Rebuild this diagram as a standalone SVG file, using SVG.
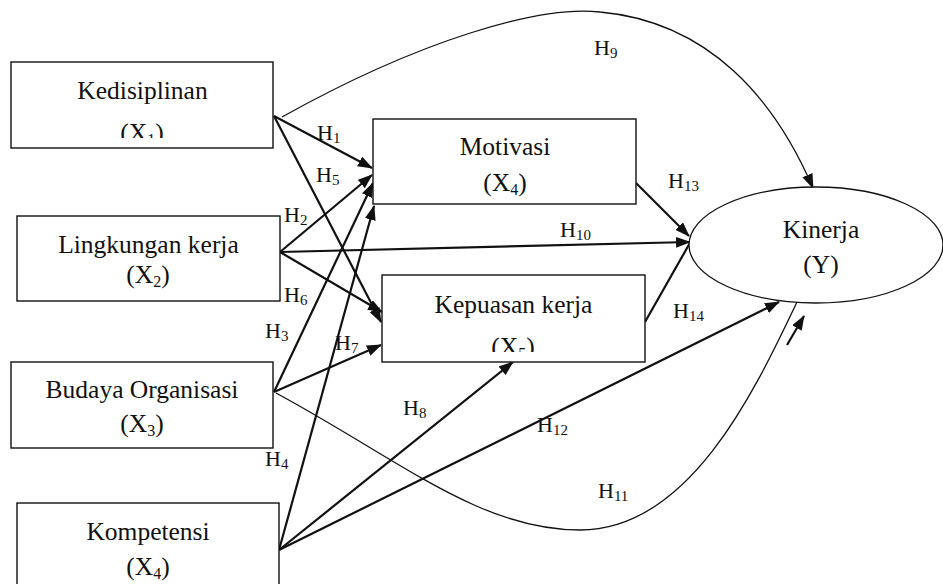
<svg xmlns="http://www.w3.org/2000/svg" width="943" height="584" viewBox="0 0 943 584">
<style>
.box{fill:#fff;stroke:#111;stroke-width:1.4}
.t{font-family:"Liberation Serif","Times New Roman",serif;font-size:25.5px;fill:#111;text-anchor:middle}
.sub{font-size:16px}
.h{font-family:"Liberation Serif","Times New Roman",serif;font-size:22px;fill:#111}
.hs{font-size:15px}
.a{stroke:#111;stroke-width:2.2;fill:none;marker-end:url(#ah)}
.ln{stroke:#111;stroke-width:2.2;fill:none}
.c{stroke:#111;stroke-width:1.3;fill:none}
</style>
<defs>
<marker id="ah" markerUnits="userSpaceOnUse" markerWidth="15" markerHeight="11" refX="14" refY="5.5" orient="auto">
<path d="M0,0 L15,5.5 L0,11 z" fill="#111"/>
</marker>
<clipPath id="cx1"><rect x="0" y="100" width="300" height="38"/></clipPath>
<clipPath id="cx5"><rect x="380" y="320" width="300" height="32"/></clipPath>
</defs>
<rect width="943" height="584" fill="#fff"/>
<g id="connectors">
<path class="c" d="M 282 117 C 420 40, 540 5, 600 12 C 710 22, 775 100, 813 188" marker-end="url(#ah)"/>
<path class="c" d="M 276 393 C 400 460, 480 530, 580 530 C 690 530, 755 390, 797 302"/>
<line class="a" x1="274" y1="116" x2="372" y2="168"/>
<line class="a" x1="274" y1="116" x2="381" y2="322"/>
<line class="a" x1="280" y1="252" x2="372" y2="175"/>
<line class="a" x1="280" y1="252" x2="382" y2="312"/>
<line class="a" x1="280" y1="252" x2="690" y2="242"/>
<line class="a" x1="274" y1="392" x2="373" y2="183"/>
<line class="a" x1="274" y1="392" x2="381" y2="345"/>
<line class="a" x1="279" y1="550" x2="374" y2="206"/>
<line class="a" x1="279" y1="550" x2="513" y2="362"/>
<line class="a" x1="279" y1="550" x2="779" y2="302"/>
<line class="a" x1="636" y1="183" x2="689" y2="236"/>
<line class="ln" x1="645" y1="322" x2="691" y2="241"/>
<line class="a" x1="787" y1="345" x2="804" y2="316"/>
</g>
<g id="kedisiplinan">
<rect class="box" x="11" y="62" width="262" height="86"/>
<text class="t" x="142.5" y="99">Kedisiplinan</text>
<text class="t" x="142" y="141" clip-path="url(#cx1)">(X<tspan class="sub" dy="4">1</tspan><tspan dy="-4">)</tspan></text>
</g>
<g id="lingkungan">
<rect class="box" x="17" y="216" width="263" height="85"/>
<text class="t" x="148.5" y="253">Lingkungan kerja</text>
<text class="t" x="148" y="283">(X<tspan class="sub" dy="4">2</tspan><tspan dy="-4">)</tspan></text>
</g>
<g id="budaya">
<rect class="box" x="11" y="362" width="262" height="86"/>
<text class="t" x="142" y="398">Budaya Organisasi</text>
<text class="t" x="142" y="432">(X<tspan class="sub" dy="4">3</tspan><tspan dy="-4">)</tspan></text>
</g>
<g id="kompetensi">
<rect class="box" x="17" y="503" width="262" height="100"/>
<text class="t" x="148" y="540">Kompetensi</text>
<text class="t" x="148" y="575">(X<tspan class="sub" dy="4">4</tspan><tspan dy="-4">)</tspan></text>
</g>
<g id="motivasi">
<rect class="box" x="373" y="119" width="263" height="85"/>
<text class="t" x="505" y="155">Motivasi</text>
<text class="t" x="505" y="191">(X<tspan class="sub" dy="4">4</tspan><tspan dy="-4">)</tspan></text>
</g>
<g id="kepuasan">
<rect class="box" x="382" y="275" width="263" height="87"/>
<text class="t" x="513.5" y="313">Kepuasan kerja</text>
<text class="t" x="513" y="355" clip-path="url(#cx5)">(X<tspan class="sub" dy="4">5</tspan><tspan dy="-4">)</tspan></text>
</g>
<g id="kinerja">
<ellipse cx="816" cy="245" rx="127" ry="58" fill="#fff" stroke="#111" stroke-width="1.3"/>
<text class="t" x="821" y="238">Kinerja</text>
<text class="t" x="821" y="273">(Y)</text>
</g>
<g id="labels">
<text class="h" x="317" y="140">H<tspan class="hs" dy="3">1</tspan></text>
<text class="h" x="316" y="182">H<tspan class="hs" dy="3">5</tspan></text>
<text class="h" x="284" y="222">H<tspan class="hs" dy="3">2</tspan></text>
<text class="h" x="284" y="302">H<tspan class="hs" dy="3">6</tspan></text>
<text class="h" x="265" y="338">H<tspan class="hs" dy="3">3</tspan></text>
<text class="h" x="335" y="350">H<tspan class="hs" dy="3">7</tspan></text>
<text class="h" x="265" y="466">H<tspan class="hs" dy="3">4</tspan></text>
<text class="h" x="403" y="415">H<tspan class="hs" dy="3">8</tspan></text>
<text class="h" x="594" y="55">H<tspan class="hs" dy="3">9</tspan></text>
<text class="h" x="560" y="237">H<tspan class="hs" dy="3">10</tspan></text>
<text class="h" x="598" y="498">H<tspan class="hs" dy="3">11</tspan></text>
<text class="h" x="537" y="432">H<tspan class="hs" dy="3">12</tspan></text>
<text class="h" x="668" y="188">H<tspan class="hs" dy="3">13</tspan></text>
<text class="h" x="673" y="318">H<tspan class="hs" dy="3">14</tspan></text>
</g>
</svg>
